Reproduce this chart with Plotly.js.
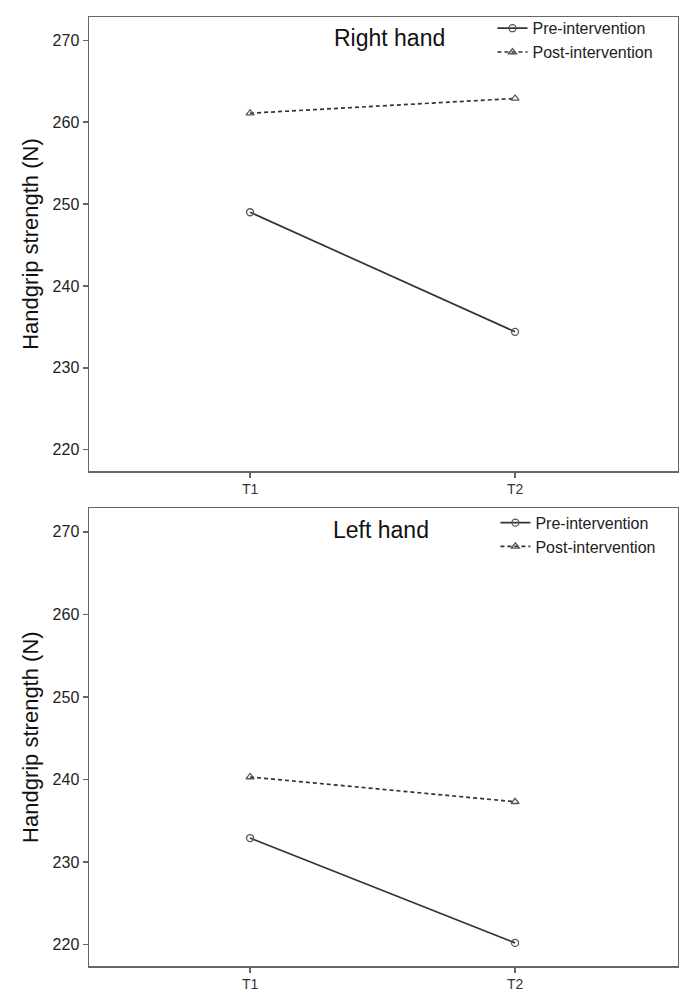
<!DOCTYPE html>
<html>
<head>
<meta charset="utf-8">
<script src="https://cdn.plot.ly/plotly-3.0.1.min.js"></script>
<style>html,body{margin:0;padding:0;background:#fff;}#chart{width:679px;height:992px;}</style>
</head>
<body>
<div id="chart"></div>
<script>
// Data
const timepoints = ["T1", "T2"];
const rightPre = [249.0, 234.4];
const rightPost = [261.1, 262.9];
const leftPre = [232.9, 220.2];
const leftPost = [240.3, 237.3];
const seriesNames = ["Pre-intervention", "Post-intervention"];
const panelTitles = ["Right hand", "Left hand"];
const yTitle = "Handgrip strength (N)";
const yTicks = [220, 230, 240, 250, 260, 270];

const FONT = "Liberation Sans, Arial, sans-serif";
const lineCol = "#333333";
const markCol = "#555555";

function preTrace(y, xa, ya, leg) {
  return {x: timepoints, y: y, xaxis: xa, yaxis: ya, name: seriesNames[0], legend: leg,
    mode: "lines+markers", line: {color: lineCol, width: 1.7},
    marker: {symbol: "circle-open", size: 7, color: markCol, line: {width: 1.3}}};
}
function postTrace(y, xa, ya, leg) {
  return {x: timepoints, y: y, xaxis: xa, yaxis: ya, name: seriesNames[1], legend: leg,
    mode: "lines+markers", line: {color: lineCol, width: 1.7, dash: "4px,3px"},
    marker: {symbol: "triangle-up-open", size: 7, color: markCol, line: {width: 1.3}}};
}

const data = [
  preTrace(rightPre, "x", "y", "legend"),
  postTrace(rightPost, "x", "y", "legend"),
  preTrace(leftPre, "x2", "y2", "legend2"),
  postTrace(leftPost, "x2", "y2", "legend2")
];

function xAxis(anchor) {
  return {anchor: anchor, domain: [0, 1], type: "category", range: [-0.608, 1.615],
    showline: true, mirror: true, linecolor: "#666", linewidth: 1.5,
    ticks: "outside", ticklen: 5, tickcolor: "#666", tickwidth: 1.5,
    showgrid: false, zeroline: false,
    tickfont: {family: FONT, size: 14, color: "#333"}};
}
function yAxis(anchor, domain) {
  return {anchor: anchor, domain: domain, range: [217.4, 272.85],
    tickvals: yTicks, ticktext: yTicks.map(String),
    showline: true, mirror: true, linecolor: "#666", linewidth: 1.5,
    ticks: "outside", ticklen: 5, tickcolor: "#666", tickwidth: 1.5,
    showgrid: false, zeroline: false,
    tickfont: {family: FONT, size: 16, color: "#222"},
    title: {text: yTitle, font: {family: FONT, size: 22, color: "#111"}, standoff: 8}};
}

const legendBase = {xref: "paper", yref: "paper", xanchor: "left", yanchor: "top",
  bgcolor: "rgba(0,0,0,0)", borderwidth: 0, tracegroupgap: 0,
  font: {family: FONT, size: 16, color: "#222"}, itemwidth: 30};

const layout = {
  width: 679, height: 992,
  margin: {l: 89, r: 1, t: 17, b: 26},
  paper_bgcolor: "#fff", plot_bgcolor: "#fff",
  showlegend: true,
  xaxis: xAxis("y"),
  yaxis: yAxis("x", [0.5216, 1]),
  xaxis2: xAxis("y2"),
  yaxis2: yAxis("x2", [0, 0.4823]),
  legend: Object.assign({}, legendBase, {x: 0.685, y: 1.006}),
  legend2: Object.assign({}, legendBase, {x: 0.69, y: 0.485}),
  annotations: [
    {text: panelTitles[0], xref: "paper", yref: "paper", x: 0.51, y: 0.978, showarrow: false,
     xanchor: "center", yanchor: "middle", font: {family: FONT, size: 23, color: "#111"}},
    {text: panelTitles[1], xref: "paper", yref: "paper", x: 0.495, y: 0.459, showarrow: false,
     xanchor: "center", yanchor: "middle", font: {family: FONT, size: 23, color: "#111"}}
  ]
};

Plotly.newPlot("chart", data, layout, {displayModeBar: false, staticPlot: true});
</script>
</body>
</html>
